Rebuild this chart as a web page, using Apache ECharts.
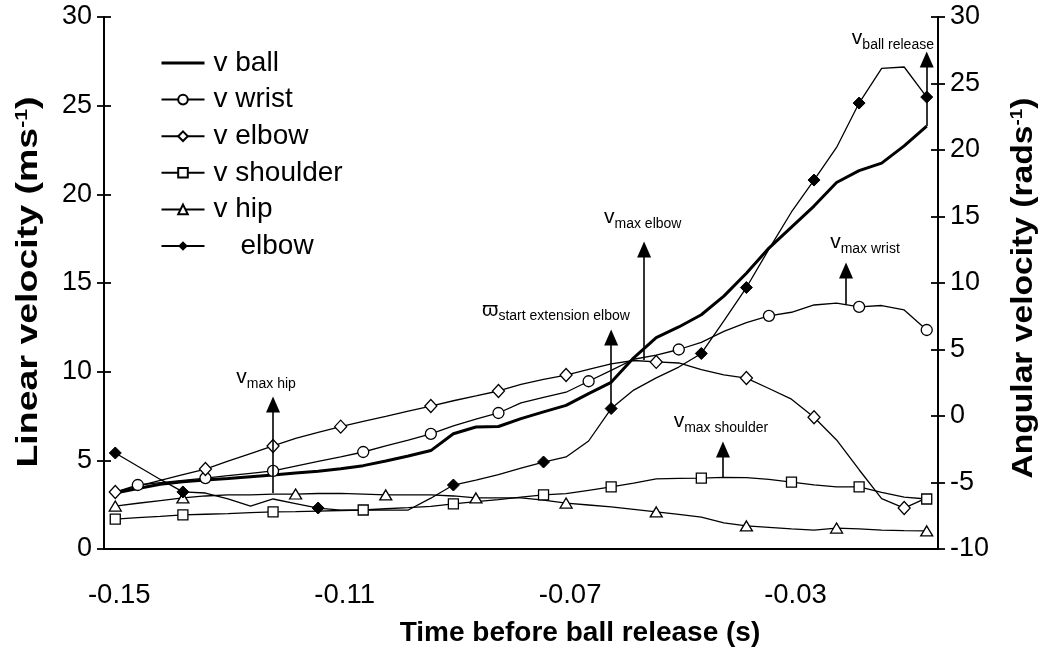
<!DOCTYPE html>
<html><head><meta charset="utf-8">
<script src="https://cdn.jsdelivr.net/npm/echarts@6/dist/echarts.min.js"></script>
<style>html,body{margin:0;padding:0;background:#fff}#c{width:1041px;height:653px}</style>
</head><body><div id="c"></div>
<script>
// time before ball release (s), one category per sample
const times = [-0.148,-0.144,-0.140,-0.136,-0.132,-0.128,-0.124,-0.120,-0.116,-0.112,-0.108,-0.104,-0.100,-0.096,-0.092,-0.088,-0.084,-0.080,-0.076,-0.072,-0.068,-0.064,-0.060,-0.056,-0.052,-0.048,-0.044,-0.040,-0.036,-0.032,-0.028,-0.024,-0.020,-0.016,-0.012,-0.008,-0.004];
// linear velocities (m/s)
const vBall = [3.16,3.41,3.65,3.79,3.89,3.98,4.08,4.17,4.28,4.39,4.52,4.70,4.96,5.24,5.55,6.50,6.88,6.91,7.35,7.73,8.10,8.76,9.40,10.78,11.92,12.52,13.21,14.26,15.55,16.97,18.15,19.34,20.67,21.34,21.76,22.73,23.85];
const vWrist = [3.21,3.61,3.74,3.87,4.00,4.14,4.27,4.40,4.67,4.94,5.20,5.47,5.81,6.14,6.49,6.94,7.32,7.67,8.24,8.55,8.84,9.46,10.07,10.70,10.93,11.25,11.65,12.27,12.76,13.15,13.35,13.76,13.87,13.65,13.73,13.48,12.35];
const vElbow = [3.21,3.54,3.87,4.20,4.51,4.95,5.38,5.81,6.24,6.58,6.90,7.20,7.48,7.78,8.06,8.36,8.63,8.91,9.28,9.56,9.81,10.13,10.44,10.63,10.55,10.49,10.11,9.82,9.64,9.05,8.45,7.43,6.15,4.47,2.84,2.31,2.88];
const vShoulder = [1.69,1.77,1.84,1.92,1.96,2.00,2.05,2.09,2.11,2.14,2.17,2.20,2.27,2.33,2.40,2.54,2.67,2.79,2.92,3.05,3.12,3.31,3.50,3.72,3.95,3.98,4.00,4.04,4.02,3.93,3.77,3.62,3.50,3.50,3.19,2.92,2.82];
const vHip = [2.42,2.58,2.73,2.88,2.99,3.05,3.05,3.10,3.10,3.13,3.14,3.10,3.05,3.05,3.05,2.99,2.88,2.88,2.88,2.76,2.59,2.48,2.37,2.23,2.09,1.95,1.80,1.47,1.30,1.22,1.14,1.07,1.18,1.13,1.07,1.04,1.02];
// angular velocity of the elbow (rad/s), right axis
const wElbow = [-2.78,-3.78,-4.77,-5.71,-5.79,-6.23,-6.77,-6.24,-6.58,-6.92,-7.07,-7.07,-7.07,-7.07,-6.18,-5.19,-4.82,-4.41,-3.92,-3.46,-3.08,-1.88,0.56,1.95,2.87,3.68,4.70,7.15,9.66,12.55,15.34,17.74,20.19,23.53,26.13,26.24,23.98];
// sample indices that carry a marker
const wristMarks = [1,4,7,11,14,17,21,25,29,33,36];
const elbowMarks = [0,4,7,10,14,17,20,24,28,31,35];
const shoulderMarks = [0,3,7,11,15,19,22,26,30,33,36];
const hipMarks = [0,3,8,12,16,20,24,28,32,36];
const wElbowMarks = [0,3,9,15,19,22,26,28,31,33,36];
// series names
const names = ['v ball','v wrist','v elbow','v shoulder','v hip','elbow'];
// annotations (x in sample-index units, y in left-axis units)
const annoSym = ['v','\u03D6','v','v','v','v'];
const annoSub = ['max hip','start extension elbow','max elbow','max wrist','max shoulder','ball release'];
const annoX = [7, 22, 23.46, 32.42, 26.96, 36];
const annoFrom = [3.16, 7.92, 10.66, 13.76, 4.06, 23.85];
const annoTo = [8.15, 11.93, 16.89, 15.70, 5.61, 27.6];
const annoLabelX = [6.69, 19.55, 23.4, 33.26, 26.87, 34.5];
const annoLabelY = [9.08, 12.9, 18.1, 16.69, 6.6, 28.2];
// axis titles
const xTitle = 'Time before ball release (s)';
const yLeftTitle = 'Linear velocity (ms{s|-1})';
const yRightTitle = 'Angular velocity (rads{s|-1})';

const FONT = 'Liberation Sans, Arial, sans-serif';
const chart = echarts.init(document.getElementById('c'), null, {renderer:'canvas'});

function marked(vals, marks) {
  return vals.map((v, i) => marks.indexOf(i) >= 0 ? v : {value: v, symbol: 'none'});
}
const openStyle = {color:'#fff', borderColor:'#000', borderWidth:1.3};

function series(name, data, marks, symbol, size, itemStyle, yIdx, lw) {
  return {
    name, type:'line', xAxisIndex:0, yAxisIndex:yIdx,
    data: marks ? marked(data, marks) : data,
    symbol: symbol, symbolSize: size, showSymbol: symbol !== 'none', showAllSymbol: true,
    itemStyle: itemStyle, lineStyle: {color:'#000', width: lw || 1.3},
    smooth: false, animation: false, silent: true, z: 3
  };
}

const catLabels = times.map(t => t.toFixed(2));
const titleStyle = {fontSize:30, fontWeight:'bold', fill:'#000', fontFamily:FONT, align:'center', verticalAlign:'middle',
  rich:{s:{fontSize:17, fontWeight:'bold', fill:'#000', fontFamily:FONT, verticalAlign:'top', padding:[0,0,12,0]}}};

const option = {
  backgroundColor: '#fff',
  textStyle: {fontFamily: FONT},
  grid: {left:104, right:103, top:17, bottom:104, containLabel:false},
  legend: {
    data: names.map(n => n === 'v ball'
      ? {name:n, lineStyle:{width:3, color:'#000'}, itemStyle:{color:'rgba(0,0,0,0)', borderColor:'rgba(0,0,0,0)', borderWidth:0}}
      : {name:n}),
    orient:'vertical', left:160, top:49, itemWidth:43, itemHeight:12, itemGap:8.6,
    padding:0, textStyle:{fontSize:28, color:'#000', fontFamily:FONT, lineHeight:28, padding:[0,0,0,4]},
    formatter: n => n === 'elbow' ? '{p|}elbow' : n,
    selectedMode:false
  },
  graphic: [
    {type:'text', x:29, y:282, rotation:Math.PI/2, scaleX:1.25, silent:true,
     style:Object.assign({text:yLeftTitle}, titleStyle)},
    {type:'text', x:1024, y:288, rotation:Math.PI/2, scaleX:1.12, silent:true,
     style:Object.assign({text:yRightTitle}, titleStyle)}
  ],
  xAxis: [
    {type:'category', data: catLabels, boundaryGap:true, position:'bottom',
     axisLine:{onZero:false, lineStyle:{color:'#000', width:2}},
     axisTick:{interval:9, inside:false, length:8, lineStyle:{color:'#000', width:1.8}},
     axisLabel:{interval:9, margin:32, fontSize:27.5, color:'#000', fontFamily:FONT, padding:[0,0,0,8]},
     name:xTitle, nameLocation:'middle', nameGap:70,
     nameTextStyle:{fontSize:28, fontWeight:'bold', color:'#000', fontFamily:FONT, padding:[0,0,0,118]},
     splitLine:{show:false}},
    {type:'category', data: catLabels, boundaryGap:true, position:'bottom',
     axisLine:{show:false, onZero:false}, axisLabel:{show:false},
     axisTick:{interval:9, inside:true, length:8, lineStyle:{color:'#000', width:1.8}}, splitLine:{show:false}},
    {type:'value', min:-0.5, max:36.5, show:false, axisLine:{onZero:false}}
  ],
  yAxis: [
    {type:'value', min:0, max:30, interval:5, position:'left',
     axisLine:{show:true, onZero:false, lineStyle:{color:'#000', width:2}},
     axisTick:{show:true, length:7, lineStyle:{color:'#000', width:1.8}},
     axisLabel:{margin:12, fontSize:27, color:'#000', fontFamily:FONT},
     splitLine:{show:false}},
    {type:'value', min:-10, max:30, interval:5, position:'right',
     axisLine:{show:true, onZero:false, lineStyle:{color:'#000', width:2}},
     axisTick:{show:true, length:7, lineStyle:{color:'#000', width:1.8}},
     axisLabel:{margin:12, fontSize:27, color:'#000', fontFamily:FONT},
     splitLine:{show:false}},
    {type:'value', min:0, max:30, interval:5, position:'left', axisLine:{show:false, onZero:false}, axisLabel:{show:false},
     axisTick:{show:true, inside:true, length:7, lineStyle:{color:'#000', width:1.8}}, splitLine:{show:false}},
    {type:'value', min:-10, max:30, interval:5, position:'right', axisLine:{show:false, onZero:false}, axisLabel:{show:false},
     axisTick:{show:true, inside:true, length:7, lineStyle:{color:'#000', width:1.8}}, splitLine:{show:false}}
  ],
  series: [
    series('v ball', vBall, null, 'none', 0, {color:'#000'}, 0, 3),
    series('v wrist', vWrist, wristMarks, 'circle', 11, openStyle, 0),
    series('v elbow', vElbow, elbowMarks, 'diamond', [12,13], openStyle, 0),
    series('v shoulder', vShoulder, shoulderMarks, 'rect', 10, openStyle, 0),
    series('v hip', vHip, hipMarks, 'triangle', [12,10], openStyle, 0),
    series('elbow', wElbow, wElbowMarks, 'diamond', [12,12], {color:'#000', borderColor:'#000'}, 1),
    {
      name:'annotations', type:'line', xAxisIndex:2, yAxisIndex:0, data:[], silent:true, animation:false,
      markLine:{
        silent:true, animation:false, symbol:['none','triangle'], symbolSize:[14,16],
        lineStyle:{color:'#000', width:1.6, type:'solid'}, label:{show:false},
        data: annoX.map((x,i) => [{coord:[x, annoFrom[i]]}, {coord:[x, annoTo[i]]}])
      },
      markPoint:{
        silent:true, animation:false, symbol:'rect', symbolSize:0,
        data: annoX.map((x,i) => ({coord:[annoLabelX[i], annoLabelY[i]],
          label:{show:true, position:'top', distance:0,
            formatter:'{a|' + annoSym[i] + '}{b|' + annoSub[i] + '}',
            rich:{a:{fontSize:21, color:'#000', fontFamily:FONT, verticalAlign:'bottom', lineHeight:24},
                  b:{fontSize:14, color:'#000', fontFamily:FONT, verticalAlign:'bottom', lineHeight:14, padding:[0,0,-3,0]}}}}))
      }
    }
  ]
};
option.legend.textStyle.rich = {p:{width:27, fontSize:28}};
chart.setOption(option);
</script></body></html>
